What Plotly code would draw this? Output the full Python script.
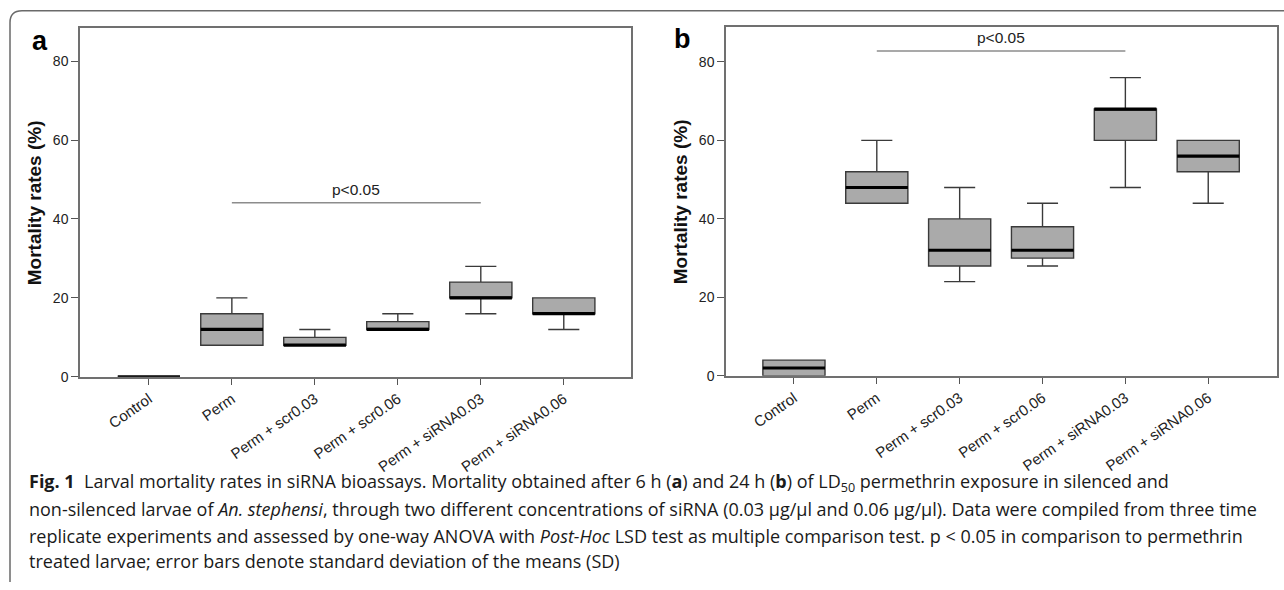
import plotly.graph_objects as go

categories = ["Control", "Perm", "Perm + scr0.03", "Perm + scr0.06", "Perm + siRNA0.03", "Perm + siRNA0.06"]

# Panel a (6 h)
a_lower = [0, 8, 8, 12, 16, 12]
a_q1 = [0, 8, 8, 12, 20, 16]
a_median = [0, 12, 8, 12, 20, 16]
a_q3 = [0, 16, 10, 14, 24, 20]
a_upper = [0, 20, 12, 16, 28, 20]

# Panel b (24 h)
b_lower = [0, 44, 24, 28, 48, 44]
b_q1 = [0, 44, 28, 30, 60, 52]
b_median = [2, 48, 32, 32, 68, 56]
b_q3 = [4, 52, 40, 38, 68, 60]
b_upper = [4, 60, 48, 44, 76, 60]

y_ticks = [0, 20, 40, 60, 80]

# significance brackets: (from category index, to category index, y value)
sig_a = (1, 4, 44.1)
sig_b = (1, 4, 82.8)
sig_text = "p<0.05"

W, H = 1284, 590
BOX_W = 0.75
FILL = "rgb(170,170,170)"
EDGE = "#3a3a3a"
AXC = "#707070"
FONT = "Liberation Sans, Arial, sans-serif"

fig = go.Figure()
pos = list(range(len(categories)))


def add_panel(lower, q1, med, q3, upper, xa, ya):
    fig.add_trace(go.Box(
        x=pos, lowerfence=lower, q1=q1, median=med, q3=q3, upperfence=upper,
        width=BOX_W, whiskerwidth=0.5, fillcolor=FILL,
        line=dict(color=EDGE, width=1.4), boxpoints=False,
        xaxis=xa, yaxis=ya, showlegend=False, hoverinfo="skip"))
    mx, my = [], []
    for i, m in zip(pos, med):
        mx += [i - BOX_W / 2, i + BOX_W / 2, None]
        my += [m, m, None]
    fig.add_trace(go.Scatter(x=mx, y=my, mode="lines", cliponaxis=False,
                             line=dict(color="black", width=3.2),
                             xaxis=xa, yaxis=ya, showlegend=False, hoverinfo="skip"))


def add_sig(sig, xa, ya, text_offset):
    x0, x1, yv = sig
    fig.add_trace(go.Scatter(x=[x0, x1], y=[yv, yv], mode="lines",
                             line=dict(color="#8c8c8c", width=1.5),
                             xaxis=xa, yaxis=ya, showlegend=False, hoverinfo="skip"))
    fig.add_annotation(x=(x0 + x1) / 2, y=yv + text_offset, text=sig_text,
                       xref=xa, yref=ya, showarrow=False,
                       xanchor="center", yanchor="middle",
                       font=dict(family=FONT, size=15.5, color="#222"))


add_panel(a_lower, a_q1, a_median, a_q3, a_upper, "x", "y")
add_panel(b_lower, b_q1, b_median, b_q3, b_upper, "x2", "y2")
add_sig(sig_a, "x", "y", 3.4)
add_sig(sig_b, "x2", "y2", 3.4)

xcommon = dict(tickvals=pos, ticktext=categories, tickangle=-35,
               showline=True, mirror=True, linecolor=AXC, linewidth=1.5,
               ticks="outside", ticklen=6, tickcolor="#555", tickwidth=1.3,
               showgrid=False, zeroline=False,
               tickfont=dict(family=FONT, size=15, color="#222"))
ycommon = dict(tickvals=y_ticks, showline=True, mirror=True, linecolor=AXC, linewidth=1.5,
               ticks="outside", ticklen=7, tickcolor="#555", tickwidth=1.3,
               showgrid=False, zeroline=False,
               tickfont=dict(family=FONT, size=14, color="#222"))

fig.update_layout(
    width=W, height=H, margin=dict(l=0, r=0, t=0, b=0),
    paper_bgcolor="white", plot_bgcolor="white",
    xaxis=dict(domain=[80 / W, 631 / W], range=[-0.83, 5.81], anchor="y", **xcommon),
    yaxis=dict(domain=[1 - 382 / H, 1 - 28 / H], range=[0, 88.5], anchor="x", **ycommon),
    xaxis2=dict(domain=[726 / W, 1277 / W], range=[-0.82, 5.83], anchor="y2", **xcommon),
    yaxis2=dict(domain=[1 - 381 / H, 1 - 27 / H], range=[0, 89], anchor="x2", **ycommon),
)

# y-axis titles
for xp, yp in [(34, 206), (680, 204)]:
    fig.add_annotation(x=xp / W, y=1 - yp / H, xref="paper", yref="paper",
                       xanchor="center", yanchor="middle",
                       text="<b>Mortality rates (%)</b>", textangle=-90, showarrow=False,
                       font=dict(family=FONT, size=19, color="#111"))

# panel letters
for lab, xp, yp in [("a", 40, 42), ("b", 682, 40)]:
    fig.add_annotation(x=xp / W, y=1 - yp / H, xref="paper", yref="paper",
                       xanchor="center", yanchor="middle",
                       text="<b>" + lab + "</b>", showarrow=False,
                       font=dict(family=FONT, size=27, color="black"))

# outer rounded frame
fig.add_shape(type="path", xref="paper", yref="paper",
              path=f"M {10/W},{0} L {10/W},{1-23/H} Q {10/W},{1-11/H} {22/W},{1-11/H} L 1,{1-11/H}",
              line=dict(color="#6a6a6a", width=1.5))

caption_lines = [
    "<b>Fig. 1</b>  Larval mortality rates in siRNA bioassays. Mortality obtained after 6 h (<b>a</b>) and 24 h (<b>b</b>) of LD<sub>50</sub> permethrin exposure in silenced and",
    "non-silenced larvae of <i>An. stephensi</i>, through two different concentrations of siRNA (0.03 µg/µl and 0.06 µg/µl). Data were compiled from three time",
    "replicate experiments and assessed by one-way ANOVA with <i>Post-Hoc</i> LSD test as multiple comparison test. p < 0.05 in comparison to permethrin",
    "treated larvae; error bars denote standard deviation of the means (SD)",
]
for line, yp in zip(caption_lines, [489, 516, 543, 569]):
    fig.add_annotation(x=27 / W, y=1 - yp / H, xref="paper", yref="paper",
                       xanchor="left", yanchor="middle", text=line, showarrow=False,
                       font=dict(family="Open Sans, sans-serif", size=18, color="#1a1a1a"))

fig.write_html("out.html", config={"displayModeBar": False},
               post_script="document.body.style.margin='0';document.body.style.overflow='hidden';")
